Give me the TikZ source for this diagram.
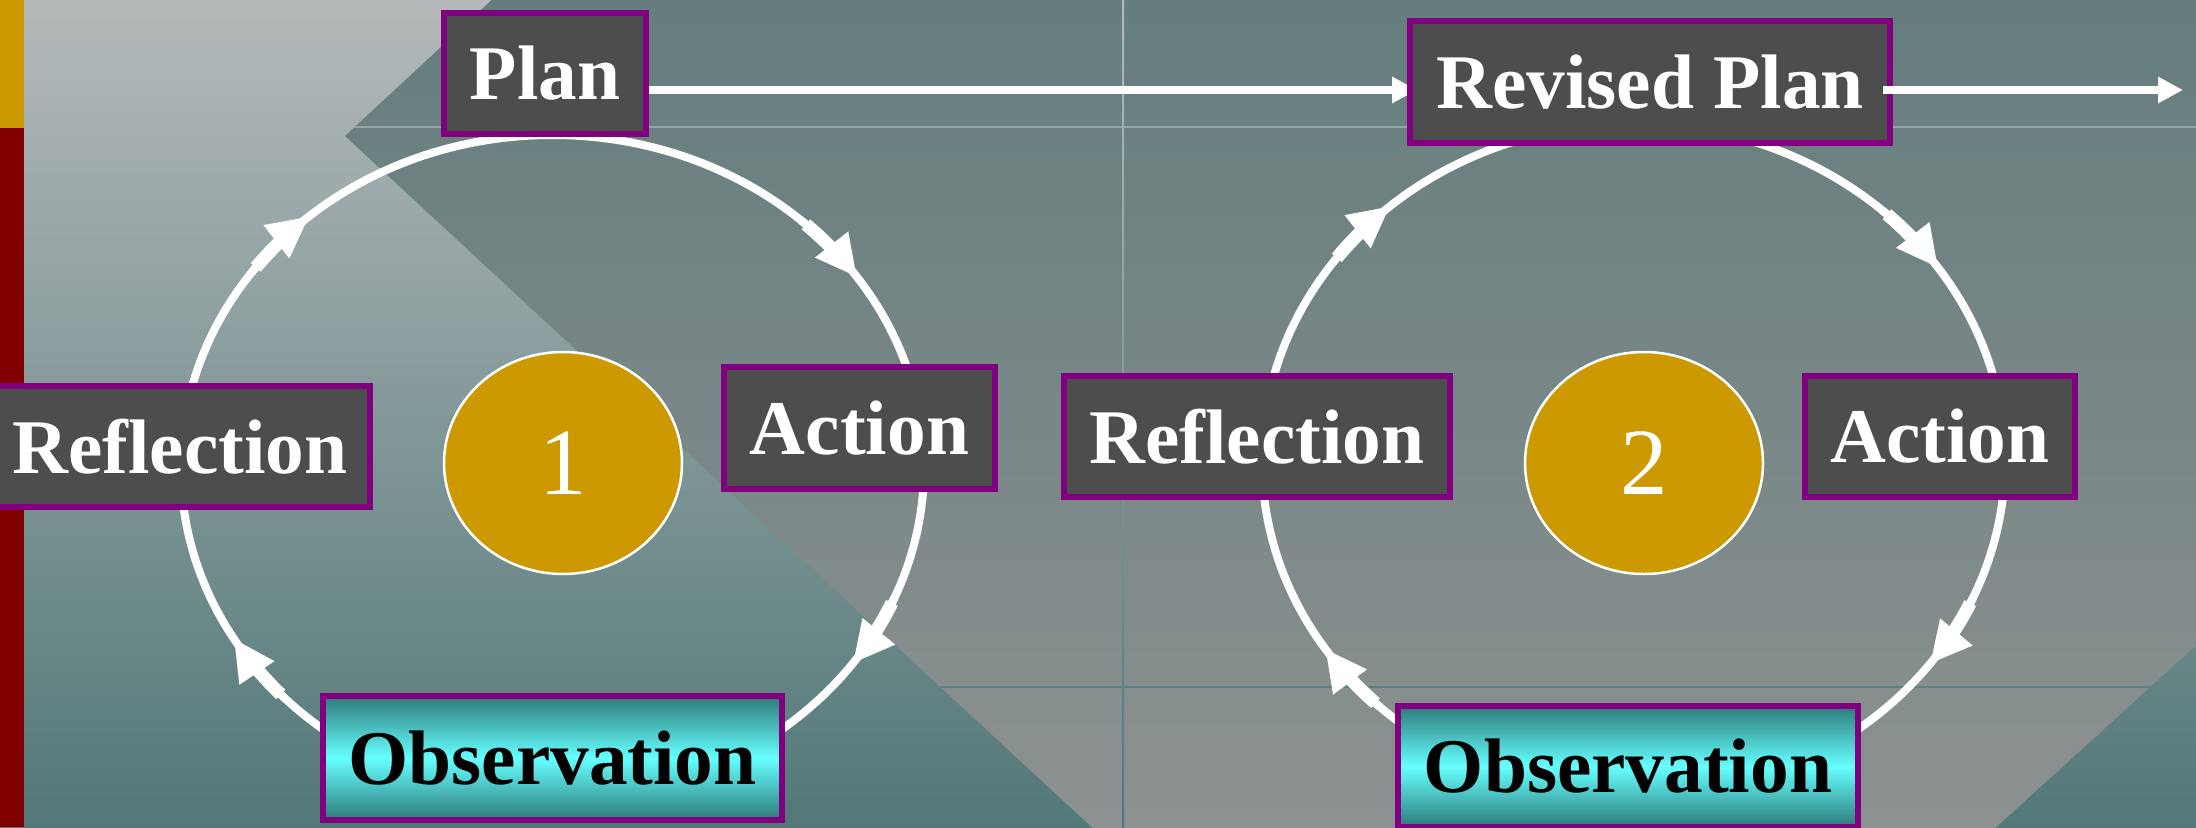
\documentclass[tikz,border=0pt]{standalone}
\usepackage{fontspec}
\setmainfont{Liberation Serif}
\usetikzlibrary{arrows.meta,shapes.geometric}
\definecolor{basetop}{RGB}{181,185,186}
\definecolor{basebot}{RGB}{82,120,120}
\definecolor{diatop}{RGB}{101,125,125}
\definecolor{diabot}{RGB}{141,145,145}
\definecolor{gapA}{RGB}{150,166,166}
\definecolor{gapB}{RGB}{95,128,128}
\definecolor{bargold}{RGB}{204,153,0}
\definecolor{barred}{RGB}{128,0,0}
\definecolor{boxgray}{RGB}{77,77,77}
\definecolor{boxpurple}{RGB}{128,0,128}
\definecolor{obsdark}{RGB}{46,122,122}
\definecolor{obscyan}{RGB}{102,255,255}
\definecolor{numgold}{RGB}{204,153,0}
\pgfdeclarelayer{bg}
\pgfdeclarelayer{mid}
\pgfsetlayers{bg,mid,main}
\tikzset{
  lblbase/.style={draw=boxpurple, line width=0.6mm, inner sep=0pt,
    font=\fontsize{22}{26}\selectfont\bfseries},
  lbl/.style={lblbase, fill=boxgray, text=white},
  obsbox/.style={lblbase, top color=obsdark, bottom color=obsdark, middle color=obscyan, text=black},
  numell/.style={ellipse, draw=white, line width=0.25mm, fill=numgold, text=white,
    inner sep=0pt, minimum width=23.8mm, minimum height=22.2mm,
    font=\fontsize{27}{30}\selectfont},
  cycline/.style={draw=white, line width=0.8mm},
  toparrow/.style={draw=white, line width=0.8mm, -{Triangle[length=2.5mm,width=2.5mm]}}
}
\newcommand{\cycarrow}[4]{%
  \pgfmathsetmacro{\angA}{#2+13}%
  \pgfmathsetmacro{\angB}{#2+12}%
  \pgfmathsetmacro{\angC}{#2+6}%
  \draw[cycline,-{Triangle[length=4.1mm,width=4.0mm]}] ([shift={(#1)}]\angA:#3 and #4) arc[start angle=\angA, end angle=#2, x radius=#3, y radius=#4];
  \draw[white, line width=1.3mm] ([shift={(#1)}]\angB:#3 and #4) arc[start angle=\angB, end angle=\angC, x radius=#3, y radius=#4];
}
\begin{document}
\begin{tikzpicture}[x=0.1mm,y=0.1mm]
\useasboundingbox (0,0) rectangle (2196,827);
\begin{pgfonlayer}{bg}
  \shade[top color=basetop, bottom color=basebot] (0,0) rectangle (2196,827);
  \begin{scope}
    \clip (345,691) -- (1100,1391) -- (2700,1391) -- (2700,640) -- (1540,-415) -- cycle;
    \shade[top color=diatop, bottom color=diabot] (0,0) rectangle (2196,827);
    \draw[line width=0.2mm, gapA] (0,700) -- (2196,700);
    \draw[line width=0.2mm, gapB] (0,140) -- (2196,140);
    \shade[top color=basetop, bottom color=basebot] (1122,0) rectangle (1124,827);
  \end{scope}
  \fill[bargold] (0,699) rectangle (24,827);
  \fill[barred] (0,0) rectangle (24,699);
\end{pgfonlayer}

\coordinate (c1) at (552.5,359.4);
\coordinate (c2) at (1633.5,366.3);
\coordinate (tipend) at (2183,737);

% cycle 1 boxes
\node[lbl, minimum width=20.2mm, minimum height=12.1mm] (plan) at (545,753.5) {Plan};
\node[lbl, minimum width=27.1mm, minimum height=12.2mm] (act1) at (859.5,399) {Action};
\node[obsbox, minimum width=45.9mm, minimum height=12.4mm] (obs1) at (552.5,69) {Observation};
\node[lbl, minimum width=38.0mm, minimum height=12.1mm] (refl1) at (180,380.5) {Reflection};
\node[numell] (n1) at (563,364) {1};

% cycle 2 boxes
\node[lbl, minimum width=48.0mm, minimum height=12.2mm] (rplan) at (1650,745) {Revised Plan};
\node[lbl, minimum width=27.0mm, minimum height=12.1mm] (act2) at (1940,390.5) {Action};
\node[obsbox, minimum width=46.0mm, minimum height=12.1mm] (obs2) at (1628,60.5) {Observation};
\node[lbl, minimum width=38.6mm, minimum height=12.1mm] (refl2) at (1257,390.5) {Reflection};
\node[numell] (n2) at (1644,364) {2};

\begin{pgfonlayer}{mid}
  \draw[cycline] (c1) ellipse [x radius=37.15mm, y radius=33.26mm];
  \cycarrow{c1}{35}{37.15mm}{33.26mm}
  \cycarrow{c1}{-36}{37.15mm}{33.26mm}
  \cycarrow{c1}{-149}{37.15mm}{33.26mm}
  \cycarrow{c1}{131}{37.15mm}{33.26mm}
  \draw[cycline] (c2) ellipse [x radius=37.15mm, y radius=33.7mm];
  \cycarrow{c2}{35}{37.15mm}{33.7mm}
  \cycarrow{c2}{-37}{37.15mm}{33.7mm}
  \cycarrow{c2}{-146}{37.15mm}{33.7mm}
  \cycarrow{c2}{131}{37.15mm}{33.7mm}
  \draw[toparrow, shorten >=-1mm] (plan.east |- tipend) -- (rplan.west |- tipend);
\end{pgfonlayer}
\draw[toparrow, shorten <=-1mm] (rplan.east |- tipend) -- (tipend);
\end{tikzpicture}
\end{document}
